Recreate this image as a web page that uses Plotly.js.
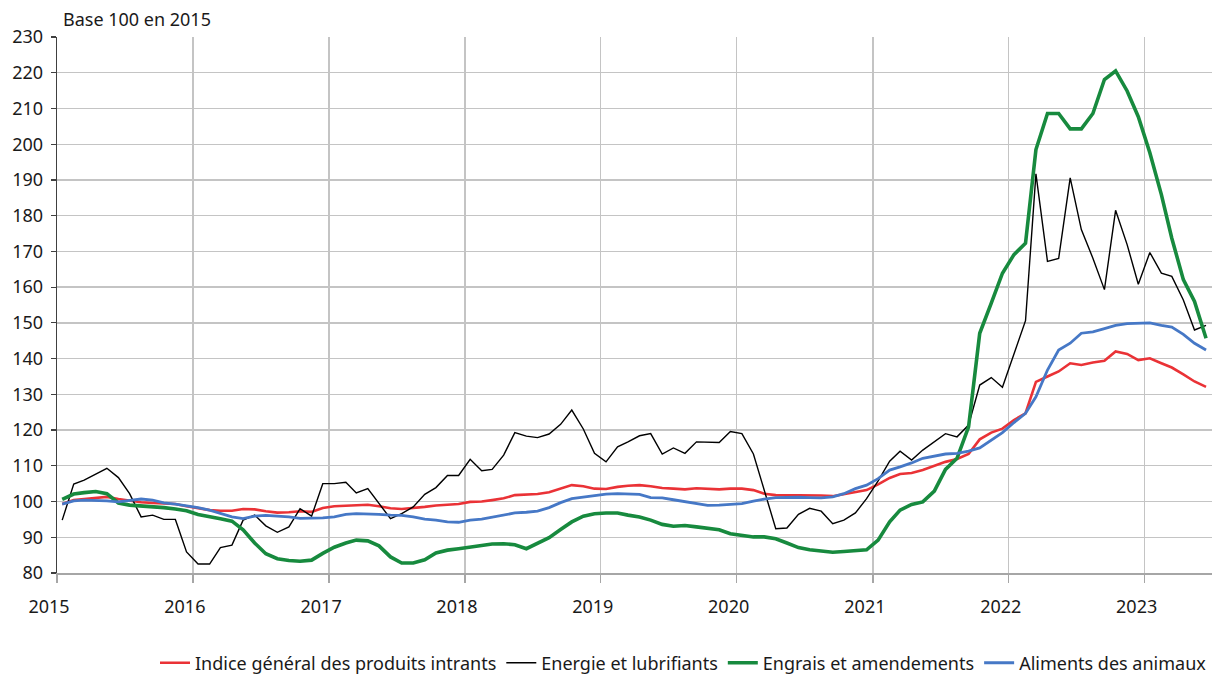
<!DOCTYPE html>
<html>
<head>
<meta charset="utf-8">
<script src="https://cdn.plot.ly/plotly-3.0.1.min.js"></script>
<style>html,body{margin:0;padding:0;background:#fff;}#chart{width:1212px;height:675px;}</style>
</head>
<body>
<div id="chart"></div>
<script>
// Monthly observations, January 2015 to June 2023 (base 100 en 2015)
var startYear = 2015;
var monthCount = 102;
var seriesNames = ["Indice général des produits intrants", "Energie et lubrifiants", "Engrais et amendements", "Aliments des animaux"];

var indiceGeneral = [99.3,100.4,100.7,101.1,101.3,100.7,100.2,99.8,99.6,99.4,99.3,98.7,
98.1,97.6,97.4,97.4,97.9,97.8,97.3,96.9,97.0,97.3,97.1,98.2,
98.7,98.9,98.9,99.1,98.7,98.1,97.9,98.1,98.5,98.9,99.2,99.3,
99.9,100.0,100.4,100.9,101.8,101.9,102.1,102.6,103.6,104.6,104.3,103.6,
103.5,104.1,104.4,104.6,104.3,103.8,103.6,103.4,103.7,103.6,103.4,103.6,
103.6,103.2,102.2,101.8,101.8,101.9,101.9,101.7,101.5,102.1,102.6,103.2,
104.8,106.6,107.7,108.0,108.8,110.0,111.1,111.9,113.3,117.4,119.3,120.4,
122.8,124.7,133.5,135.0,136.4,138.7,138.2,138.9,139.4,142.0,141.3,139.6,
140.1,138.7,137.5,135.6,133.6,132.1];

var energie = [94.8,104.9,106.0,107.7,109.3,106.7,102.2,95.7,96.2,95.0,95.0,85.9,
82.5,82.5,87.1,87.8,94.8,96.2,93.2,91.4,92.9,98.0,95.9,105.0,
105.0,105.4,102.4,103.6,99.4,95.2,96.6,98.5,102.0,103.9,107.3,107.3,
111.8,108.6,109.0,113.0,119.3,118.3,117.9,118.9,121.6,125.6,120.3,113.5,
111.1,115.3,116.7,118.4,119.0,113.3,115.0,113.5,116.7,116.5,116.5,119.6,
119.0,113.3,103.2,92.4,92.6,96.4,98.1,97.3,93.8,94.8,96.8,100.8,
105.8,111.3,114.1,111.6,114.4,116.7,119.0,118.1,121.4,132.6,134.7,132.0,
141.5,150.6,191.7,167.2,168.0,190.6,176.1,168.1,159.3,181.5,171.9,160.8,
169.7,163.9,163.0,156.4,148.0,149.3];

var engrais = [100.6,102.1,102.5,102.8,102.2,99.6,99.0,98.8,98.5,98.3,97.9,97.4,
96.4,95.9,95.2,94.5,92.1,88.4,85.4,84.0,83.5,83.3,83.6,85.5,
87.2,88.4,89.2,89.0,87.6,84.5,82.8,82.8,83.7,85.6,86.4,86.8,
87.3,87.8,88.1,88.2,87.9,86.8,88.2,89.9,92.2,94.3,95.9,96.6,
96.8,96.8,96.2,95.7,94.8,93.6,93.1,93.3,92.9,92.6,92.1,91.0,
90.5,90.1,90.1,89.6,88.4,87.1,86.5,86.2,85.8,86.0,86.2,86.5,
89.2,94.3,97.6,99.2,99.9,102.9,109.0,112.1,120.9,147.1,155.5,163.9,
169.1,172.3,198.5,208.6,208.6,204.3,204.3,208.6,218.1,220.5,214.9,207.7,
197.6,185.9,173.7,162.1,156.0,145.7];

var aliments = [99.3,100.2,100.4,100.4,100.2,99.9,100.2,100.7,100.4,99.6,99.3,98.9,
98.3,97.6,96.6,95.7,95.2,95.9,96.1,96.0,95.7,95.3,95.3,95.4,
95.7,96.4,96.6,96.6,96.4,96.2,96.1,95.7,95.1,94.8,94.3,94.2,
94.8,95.1,95.7,96.2,96.8,97.0,97.3,98.3,99.7,100.8,101.3,101.8,
102.1,102.2,102.2,102.0,101.1,101.0,100.5,99.9,99.3,98.9,99.0,99.2,
99.4,100.1,100.7,101.1,101.2,101.2,101.1,101.0,101.3,102.2,103.6,104.6,
106.4,108.8,109.7,110.8,112.1,112.8,113.3,113.5,114.1,115.0,117.2,119.3,
122.1,124.7,129.3,136.8,142.4,144.3,147.1,147.5,148.4,149.3,149.8,149.8,
150.0,149.3,148.8,146.8,144.3,142.4];

// month labels (mid-month dates)
var months = [];
for (var i = 0; i < monthCount; i++) {
  var y = startYear + Math.floor(i / 12);
  var m = (i % 12) + 1;
  months.push(y + "-" + (m < 10 ? "0" + m : m) + "-15");
}

var font = "Noto Sans, Open Sans, DejaVu Sans, sans-serif";
var fs = 18;

var traces = [
  {x: months, y: indiceGeneral, name: seriesNames[0], type: "scatter", mode: "lines",
   line: {color: "#ea3236", width: 2.6}},
  {x: months, y: energie, name: seriesNames[1], type: "scatter", mode: "lines",
   line: {color: "#000000", width: 1.4}},
  {x: months, y: engrais, name: seriesNames[2], type: "scatter", mode: "lines",
   line: {color: "#178a3e", width: 3.6}},
  {x: months, y: aliments, name: seriesNames[3], type: "scatter", mode: "lines",
   line: {color: "#4678c6", width: 2.8}}
];

var layout = {
  width: 1212, height: 675,
  margin: {l: 57, r: 0, t: 37, b: 102, autoexpand: false},
  paper_bgcolor: "#ffffff", plot_bgcolor: "#ffffff",
  font: {family: font, size: fs, color: "#1a1a1a"},
  showlegend: true,
  legend: {orientation: "h", x: 1, xanchor: "right", y: -0.168, yanchor: "middle",
           font: {family: font, size: fs, color: "#1a1a1a"}, traceorder: "normal",
           itemwidth: 30, bgcolor: "rgba(0,0,0,0)"},
  xaxis: {
    type: "date", range: ["2015-01-01", "2023-07-01"],
    tick0: "2015-01-01", dtick: "M12", tickformat: "%Y",
    showgrid: true, gridcolor: "#c4c4c4", gridwidth: 1.3,
    ticks: "outside", ticklen: 8, tickcolor: "#a6a6a6", tickwidth: 1.3,
    showline: true, linecolor: "#a6a6a6", linewidth: 1.5,
    zeroline: false, ticklabelstandoff: 9, ticklabelshift: -8,
    tickfont: {family: font, size: fs, color: "#1a1a1a"}
  },
  yaxis: {
    range: [80, 230], dtick: 10, tick0: 80,
    showgrid: true, gridcolor: "#c4c4c4", gridwidth: 1.3,
    ticks: "outside", ticklen: 5, tickcolor: "#404040", tickwidth: 1.2,
    showline: true, linecolor: "#404040", linewidth: 1.3,
    zeroline: false, ticklabelstandoff: 4,
    tickfont: {family: font, size: fs, color: "#1a1a1a"}
  },
  annotations: [{
    text: "Base 100 en 2015", xref: "paper", yref: "paper", x: 0, y: 1,
    xanchor: "left", yanchor: "bottom", xshift: 4, yshift: 4, showarrow: false,
    font: {family: font, size: fs, color: "#1a1a1a"}
  }]
};

Plotly.newPlot("chart", traces, layout, {staticPlot: true, displayModeBar: false});
</script>
</body>
</html>
